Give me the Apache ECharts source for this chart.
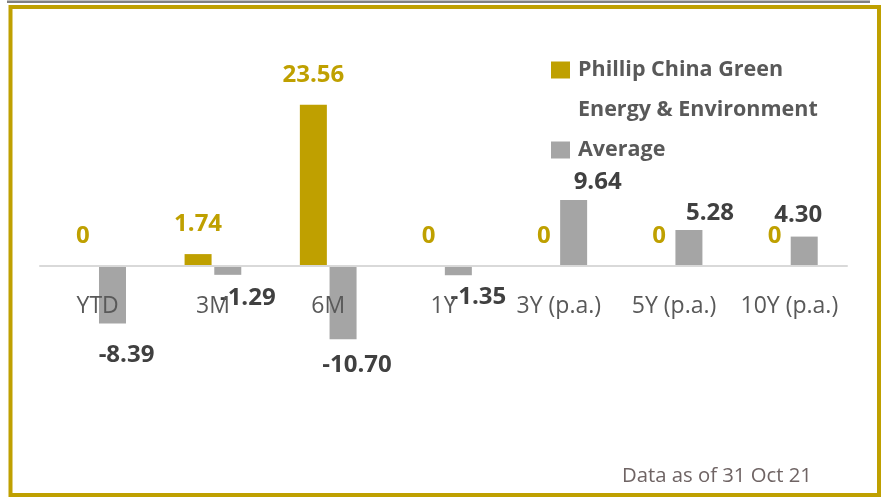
<!DOCTYPE html>
<html>
<head>
<meta charset="utf-8">
<script src="https://cdn.jsdelivr.net/npm/echarts@6/dist/echarts.min.js"></script>
<style>
  html, body { margin: 0; padding: 0; background: #fff; }
  #chart { width: 884px; height: 498px; }
</style>
</head>
<body>
<div id="chart"></div>
<script>
// data
const categories = ["YTD", "3M", "6M", "1Y", "3Y (p.a.)", "5Y (p.a.)", "10Y (p.a.)"];
const fundName = "Phillip China Green\nEnergy & Environment";
const fundValues = [0, 1.74, 23.56, 0, 0, 0, 0];
const averageValues = [-8.39, -1.29, -10.7, -1.35, 9.64, 5.28, 4.3];

// hand placed label nudges for the Average labels (like the Excel original)
const avgLabelOffsets = [[14, 20], [20, 11], [14, 14], [20, 10], [24, -5.5], [21, -5], [-6, -9]];

const gold = "#BFA000";
const grey = "#A5A5A5";
const font = "Open Sans";

const chart = echarts.init(document.getElementById("chart"));

const option = {
  animation: false,
  grid: { left: 40, right: 37, top: 95, height: 342 },
  legend: {
    orient: "vertical",
    left: 551,
    top: 10,
    padding: 0,
    itemWidth: 19,
    itemHeight: 17,
    itemGap: 0,
    icon: "rect",
    // leading empty line keeps the first line level with the icon
    formatter: (name) => (name === fundName ? "\n" + name : name),
    textStyle: { fontFamily: font, fontSize: 21.5, fontWeight: "bold", color: "#595959", lineHeight: 40, padding: [0, 0, 0, 3] },
    data: [fundName, "Average"],
  },
  xAxis: {
    type: "category",
    data: categories,
    z: 3,
    axisLine: { onZero: true, lineStyle: { color: "#D9D9D9", width: 2 } },
    axisTick: { show: false },
    // labels sit just under the zero line, not at the grid bottom
    axisLabel: { interval: 0, fontFamily: font, fontSize: 23, color: "#595959", lineHeight: 24, margin: -143 },
  },
  yAxis: {
    type: "value",
    min: -25,
    max: 25,
    axisLine: { show: false },
    axisTick: { show: false },
    axisLabel: { show: false },
    splitLine: { show: false },
  },
  series: [
    {
      name: fundName,
      type: "bar",
      barWidth: 27,
      barGap: "10%",
      itemStyle: { color: gold },
      label: {
        show: true,
        position: "top",
        distance: 18,
        fontFamily: font,
        fontSize: 24,
        lineHeight: 24,
        fontWeight: "bold",
        color: gold,
        formatter: (p) => (p.value === 0 ? "0" : p.value.toFixed(2)),
      },
      data: fundValues,
    },
    {
      name: "Average",
      type: "bar",
      barWidth: 27,
      itemStyle: { color: grey },
      label: {
        show: true,
        distance: 0,
        fontFamily: font,
        fontSize: 24,
        lineHeight: 24,
        fontWeight: "bold",
        color: "#404040",
        formatter: (p) => p.value.toFixed(2),
      },
      data: averageValues.map((v, i) => ({
        value: v,
        label: { position: v < 0 ? "bottom" : "top", offset: avgLabelOffsets[i] },
      })),
    },
  ],
  graphic: [
    {
      type: "line",
      shape: { x1: 7, y1: 1.7, x2: 870, y2: 1.7 },
      style: { stroke: "#808080", lineWidth: 2.5 },
    },
    {
      type: "rect",
      shape: { x: 10.5, y: 7, width: 868.5, height: 488 },
      style: { fill: "none", stroke: gold, lineWidth: 4 },
    },
    {
      type: "text",
      left: 622,
      top: 466,
      style: { text: "Data as of 31 Oct 21", fontFamily: font, fontSize: 20.3, fill: "#6F6464" },
    },
  ],
};

chart.setOption(option);
</script>
</body>
</html>
